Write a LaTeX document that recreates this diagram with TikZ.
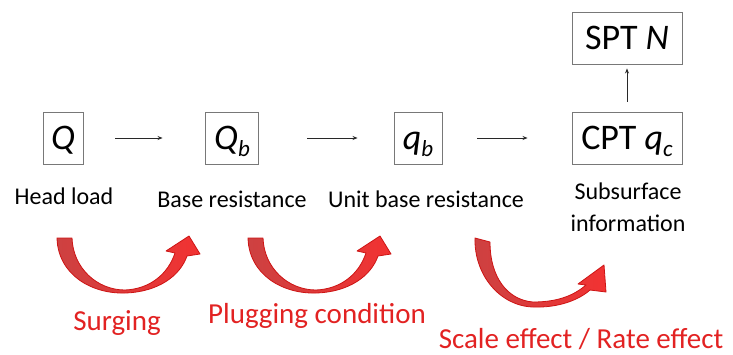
\documentclass[tikz,border=0pt]{standalone}
\usepackage{fontspec}
\setmainfont{Carlito}
\usetikzlibrary{arrows.meta}
\definecolor{boxline}{RGB}{120,120,120}
\definecolor{redtxt}{RGB}{226,34,34}
\definecolor{redfill}{RGB}{242,50,50}
\definecolor{reddark}{RGB}{205,65,65}
\definecolor{redline}{RGB}{205,20,20}
\newcommand{\sbs}[1]{\raisebox{-0.2em}{\fontsize{23}{23}\selectfont\itshape #1}}
\begin{document}
\begin{tikzpicture}[x=1pt,y=-1pt,
  qbox/.style={draw=boxline,line width=0.9pt,inner sep=0pt,minimum height=52pt,
     text height=23pt,text depth=0pt,font=\fontsize{36}{40}\selectfont},
  conn/.style={draw={rgb,255:red,40;green,40;blue,40},line width=0.8pt,-{Stealth[length=5pt,width=4pt]}},
  lbl/.style={font=\fontsize{24}{29}\selectfont,anchor=base,inner sep=0pt},
  rlbl/.style={font=\fontsize{29}{34}\selectfont,text=redtxt,anchor=base,inner sep=0pt},
  ribbon/.style={left color=reddark,right color=redfill,draw=redline,line width=0.8pt,line join=round}]
\useasboundingbox (0,0) rectangle (733,354);
% boxes
\node[qbox,minimum width=40pt] (Q) at (63,138) {\itshape Q};
\node[qbox,minimum width=53pt] (Qb) at (232,138) {\itshape Q\sbs{b}};
\node[qbox,minimum width=48pt] (qb) at (418,138) {\itshape q\sbs{b}};
\node[qbox,minimum width=110pt] (cpt) at (627,138) {CPT \itshape q\sbs{c}};
\node[qbox,minimum width=110pt] (spt) at (627,38) {SPT \itshape N};
% connectors
\draw[conn,shorten <=32pt,shorten >=42.5pt] (Q) -- (Qb);
\draw[conn,shorten <=48.5pt,shorten >=36pt] (Qb) -- (qb);
\draw[conn,shorten <=35pt,shorten >=44pt] (qb) -- (cpt);
\draw[conn,shorten <=10pt,shorten >=4pt] (cpt) -- (spt);
% labels
\node[lbl] (l1) at (64,204) {Head load};
\node[lbl] (l2) at (232,207) {Base resistance};
\node[lbl] (l3) at (426,207) {Unit base resistance};
\node[lbl] (l4) at (628,199) {Subsurface};
\node[lbl] (l5) at (628,231) {information};
% red curved arrows
\path[ribbon] (57,238) .. controls (58,275) and (92,294) .. (125,293)
  .. controls (158,292) and (180,276) .. (187,256) -- (200,254) -- (189,236) -- (166,251) -- (175,253)
  .. controls (168,274) and (150,289) .. (125,290) .. controls (97,290) and (73,268) .. (72,238) -- cycle;
\begin{scope}[xshift=191pt]
\path[ribbon] (57,238) .. controls (58,275) and (92,294) .. (125,293)
  .. controls (158,292) and (180,276) .. (187,256) -- (200,254) -- (189,236) -- (166,251) -- (175,253)
  .. controls (168,274) and (150,289) .. (125,290) .. controls (97,290) and (73,268) .. (72,238) -- cycle;
\end{scope}
\path[ribbon] (475,238) .. controls (474,275) and (500,306) .. (533,307)
  .. controls (560,308) and (580,299) .. (590,290) -- (606,292) -- (604,265) -- (578,284) -- (586,285)
  .. controls (572,297) and (555,302) .. (533,302) .. controls (508,300) and (490,278) .. (490,242) -- cycle;
% red labels
\node[rlbl] (r1) at (117,330) {Surging};
\node[rlbl] (r2) at (317,323) {Plugging condition};
\node[rlbl] (r3) at (581,348) {Scale effect / Rate effect};
\end{tikzpicture}
\end{document}
